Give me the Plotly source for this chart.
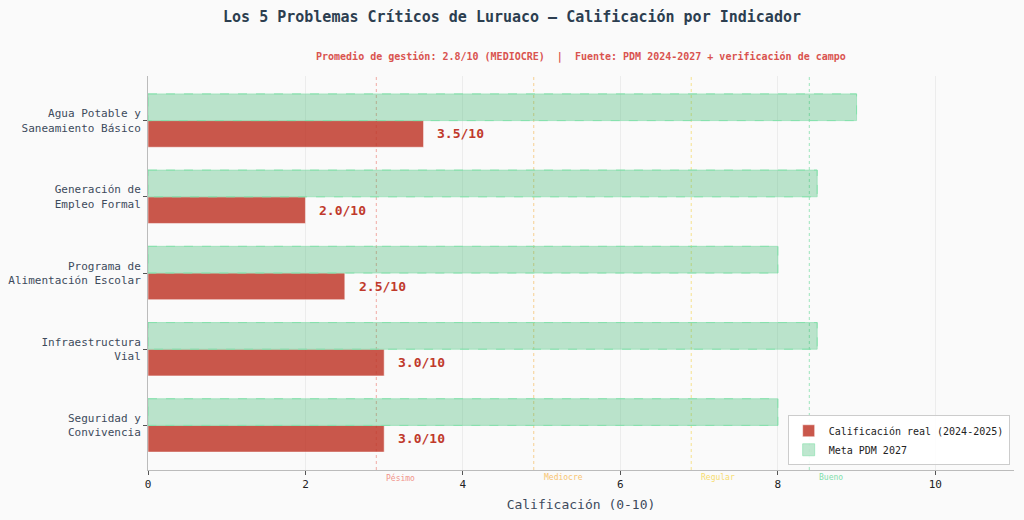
import plotly.graph_objects as go

# Datos
categorias = [
    "Agua Potable y<br>Saneamiento Básico",
    "Generación de<br>Empleo Formal",
    "Programa de<br>Alimentación Escolar",
    "Infraestructura<br>Vial",
    "Seguridad y<br>Convivencia",
]
calificacion = [3.5, 2.0, 2.5, 3.0, 3.0]
meta_2027 = [9.0, 8.5, 8.0, 8.5, 8.0]

umbrales = [2.9, 4.9, 6.9, 8.4]
umbral_nombres = ["Pésimo", "Mediocre", "Regular", "Bueno"]
umbral_lineas = ["#e74c3c", "#f39c12", "#f1c40f", "#2ecc71"]
umbral_colores = ["#f1948a", "#f8c471", "#f7dc6f", "#82e0aa"]

x_ticks = [0, 2, 4, 6, 8, 10]

FONT = "DejaVu Sans Mono"
DARK = "#2c3e50"
ROJO = "#c0392b"
ancho = 0.35

pos = list(range(len(categorias)))
pos_meta = [p - ancho / 2 for p in pos]
pos_real = [p + ancho / 2 for p in pos]

fig = go.Figure()

fig.add_trace(go.Bar(
    y=pos_real, x=calificacion, orientation="h", width=ancho,
    name="Calificación real (2024-2025)",
    marker=dict(color="rgba(192,57,43,0.85)", line=dict(color="rgba(255,255,255,0.5)", width=1)),
    hoverinfo="skip",
))
fig.add_trace(go.Bar(
    y=pos_meta, x=meta_2027, orientation="h", width=ancho,
    name="Meta PDM 2027",
    marker=dict(color="rgba(39,174,96,0.3)", line=dict(color="rgba(130,224,170,0.6)", width=1)),
    hoverinfo="skip",
))

# contorno discontinuo de las metas
for p, m in zip(pos_meta, meta_2027):
    fig.add_shape(type="rect", xref="x", yref="y", x0=0, x1=m,
                  y0=p - ancho / 2, y1=p + ancho / 2,
                  line=dict(color="rgba(130,224,170,0.9)", width=1, dash="dash"),
                  fillcolor="rgba(0,0,0,0)", layer="above")

# etiquetas de valor
for p, v in zip(pos_real, calificacion):
    fig.add_annotation(x=v + 0.15, y=p, xref="x", yref="y", text=f"<b>{v:.1f}/10</b>",
                       showarrow=False, xanchor="left",
                       font=dict(family=FONT, size=13, color=ROJO))

# umbrales de calificacion
for u, n, lc, c in zip(umbrales, umbral_nombres, umbral_lineas, umbral_colores):
    fig.add_vline(x=u, line=dict(color=lc, width=1, dash="dot"), opacity=0.45, layer="below")
    fig.add_annotation(x=u + 0.1, y=0, xref="x", yref="paper", text=n, showarrow=False,
                       xanchor="left", yanchor="top", yshift=-1,
                       font=dict(family=FONT, size=8, color=c))

fig.add_annotation(x=0.5, y=1, xref="paper", yref="paper", yshift=19,
                   text="<b>Promedio de gestión: 2.8/10 (MEDIOCRE)  |  Fuente: PDM 2024-2027 + verificación de campo</b>",
                   showarrow=False, xanchor="center", yanchor="middle",
                   font=dict(family=FONT, size=10, color="#d9534f"))

fig.update_layout(
    width=1024, height=520,
    margin=dict(l=148, r=10, t=76, b=50, autoexpand=False),
    paper_bgcolor="#fafafa", plot_bgcolor="#fafafa",
    barmode="overlay",
    font=dict(family=FONT, color=DARK),
    title=dict(text="<b>Los 5 Problemas Críticos de Luruaco – Calificación por Indicador</b>",
               x=0.5, xanchor="center", y=0.968, yanchor="middle",
               font=dict(family=FONT, size=15, color=DARK)),
    showlegend=True,
    legend=dict(x=0.995, y=0.012, xanchor="right", yanchor="bottom",
                bgcolor="rgba(255,255,255,0.9)", bordercolor="#cccccc", borderwidth=1,
                font=dict(family=FONT, size=10, color="#222222"), traceorder="normal",
                tracegroupgap=0, itemwidth=30),
    xaxis=dict(range=[0, 11], tickvals=x_ticks, showgrid=True, gridcolor="#ececec",
               gridwidth=1, zeroline=False, showline=True, linecolor="#bbbbbb",
               ticks="outside", ticklen=4, tickcolor="#555555", automargin=False,
               tickfont=dict(family=FONT, size=11, color="#222222"),
               title=dict(text="Calificación (0-10)", font=dict(family=FONT, size=13, color="#3d4a5c"),
                          standoff=9)),
    yaxis=dict(range=[len(categorias) - 1 + 0.585, -0.585], tickvals=pos, ticktext=categorias,
               showgrid=False, zeroline=False, showline=True, linecolor="#bbbbbb",
               ticks="outside", ticklen=4, tickcolor="#555555", automargin=False,
               tickfont=dict(family=FONT, size=11, color="#3d4a5c")),
)

fig.write_html("out.html", config={"displayModeBar": False},
               post_script="document.body.style.margin='0';")
